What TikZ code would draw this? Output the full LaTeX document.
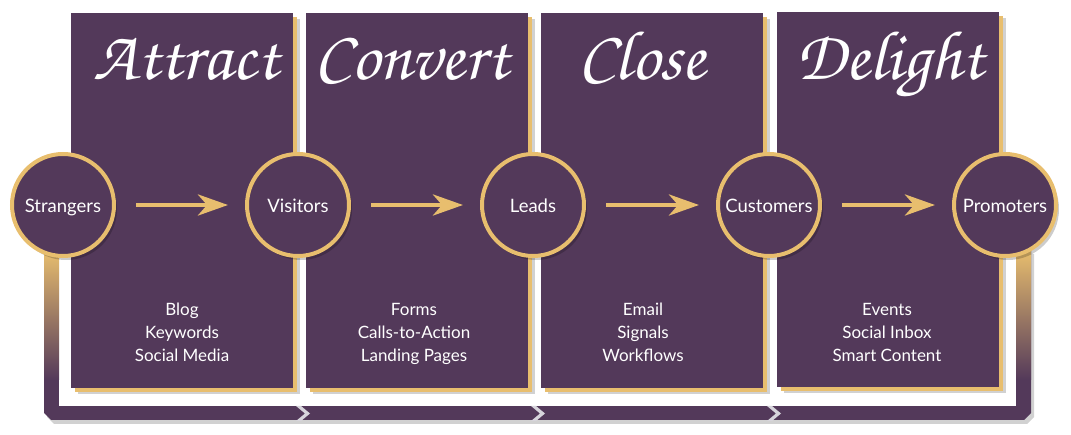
\documentclass[tikz,border=0pt]{standalone}
\usepackage{fontspec}
\setmainfont{Lato}
\newfontfamily\scriptf{texgyrechorus-mediumitalic.otf}
\usetikzlibrary{arrows.meta,shadows}
\definecolor{plum}{RGB}{83,57,90}
\definecolor{gold}{RGB}{232,190,110}
\definecolor{chev}{RGB}{215,213,220}
\begin{document}
\begin{tikzpicture}[x=1pt,y=-1pt,
  panelbox/.style={fill=plum, draw=none, minimum width=222pt, minimum height=375pt,
    inner sep=0pt, anchor=north west,
    general shadow={shadow xshift=7pt, shadow yshift=-6pt, fill=black, opacity=0.18},
    general shadow={shadow xshift=4pt, shadow yshift=-4pt, fill=gold}},
  stage/.style={circle, fill=plum, draw=gold, line width=4pt, minimum size=102pt,
    inner sep=0pt, text=white, font=\fontsize{18.5}{21}\selectfont,
    text height=16pt, text depth=0pt,
    general shadow={shadow xshift=3pt, shadow yshift=-4pt, fill=black, opacity=0.2}},
  flow/.style={draw=gold, line width=4.5pt, -{Stealth[length=30pt, width=21pt, inset=9pt]},
    shorten <=20pt, shorten >=17pt},
  title/.style={text=white, font=\scriptf\fontsize{70}{70}\selectfont, anchor=base, inner sep=0pt},
  tools/.style={text=white, align=center, font=\fontsize{17}{23}\selectfont, inner sep=0pt},
  chevron/.style={fill=chev}
]
\useasboundingbox (0,0) rectangle (1071,435);

% bottom return bar
\fill[black, opacity=0.18] (47,254) -- (47,417) -- (54,424) -- (1027,424) -- (1034,417) -- (1034,254) -- cycle;
\fill[plum] (44,250) -- (44,413) -- (51,420) -- (1024,420) -- (1031,413) -- (1031,250)
  -- (1016,250) -- (1016,406) -- (59,406) -- (59,250) -- cycle;
\fill[white] (59,250) rectangle (1016,406);
\shade[top color=gold, bottom color=plum] (44,250) rectangle (59,380);
\shade[top color=gold, bottom color=plum] (1016,250) rectangle (1031,380);

% panels
\node[panelbox] (p1) at (71,13) {};
\node[panelbox] (p2) at (306,13) {};
\node[panelbox] (p3) at (541,13) {};
\node[panelbox] (p4) at (777,12) {};

% titles
\node[title] (t1) at (186,80) {Attract};
\node[title] (t2) at (412,80) {Convert};
\node[title] (t3) at (642,80) {Close};
\node[title] (t4) at (890,80) {Delight};

% tools
\node[tools] (l1) at (182,334) {\strut Blog\\Keywords\\Social Media\strut};
\node[tools] (l2) at (414,334) {\strut Forms\\Calls-to-Action\\Landing Pages\strut};
\node[tools] (l3) at (643,334) {\strut Email\\Signals\\Workflows\strut};
\node[tools] (l4) at (887,334) {\strut Events\\Social Inbox\\Smart Content\strut};

% stages
\node[stage] (strangers) at (63,205) {Strangers};
\node[stage] (visitors) at (298,205) {Visitors};
\node[stage] (leads) at (533,205) {Leads};
\node[stage] (customers) at (769,205) {Customers};
\node[stage] (promoters) at (1005,205) {Promoters};

\draw[flow] (strangers) -- (visitors);
\draw[flow] (visitors) -- (leads);
\draw[flow] (leads) -- (customers);
\draw[flow] (customers) -- (promoters);

% chevrons in the return bar
\coordinate (bt) at (0,406);
\foreach \n in {visitors,leads,customers}{
  \fill[chevron] (\n |- bt) ++(-2,0) -- ++(5,0) -- ++(9,7.5) -- ++(-9,7.5) -- ++(-5,0) -- ++(9,-7.5) -- cycle;
}
\end{tikzpicture}
\end{document}
